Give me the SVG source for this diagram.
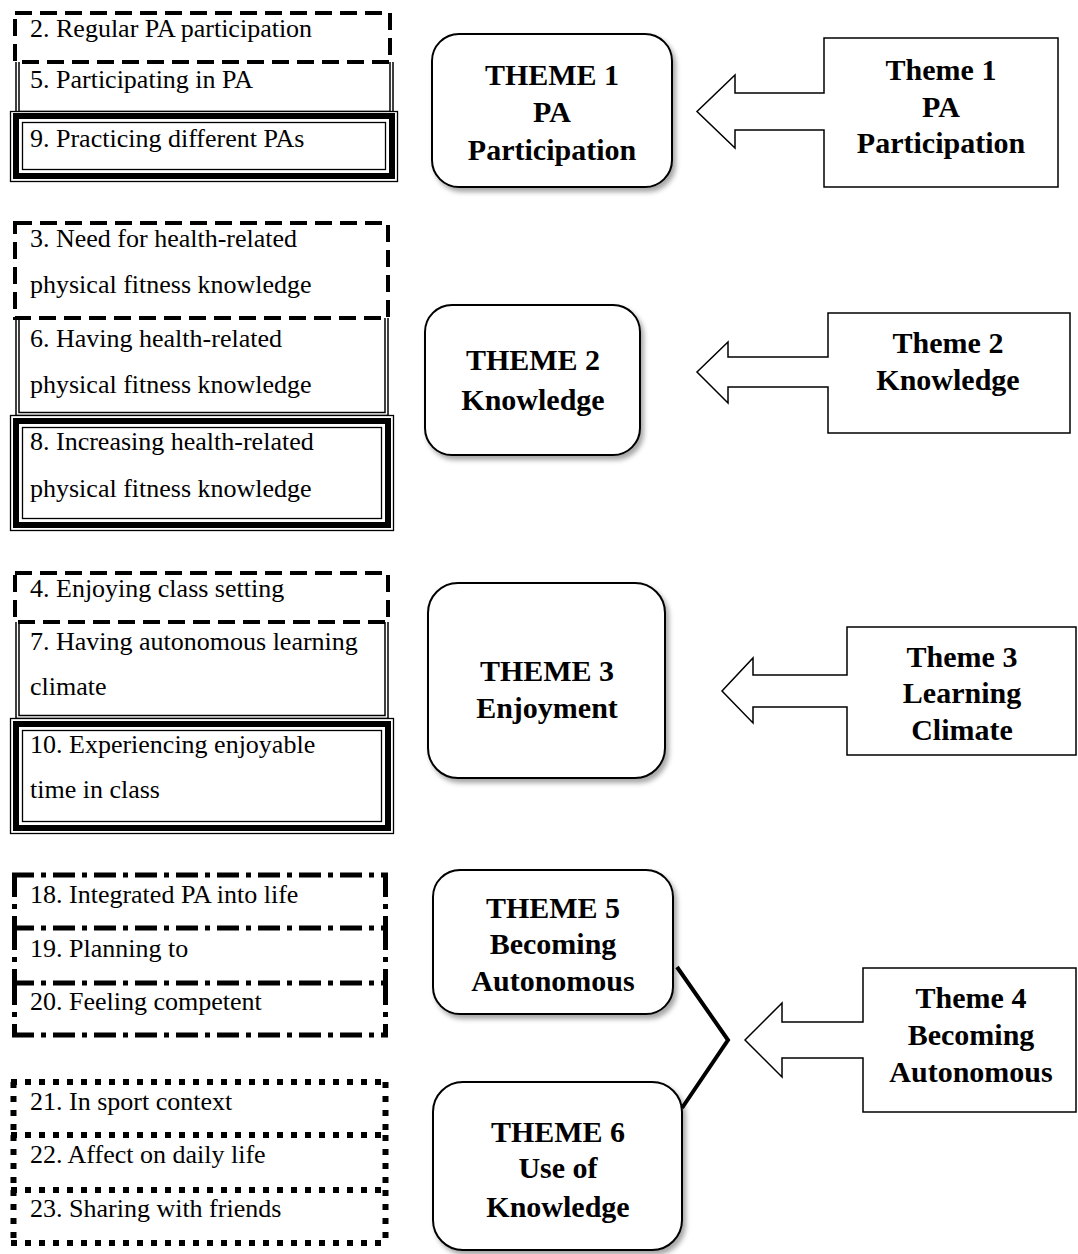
<svg xmlns="http://www.w3.org/2000/svg" width="1078" height="1254" viewBox="0 0 1078 1254">
<defs>
<filter id="sh" x="-10%" y="-10%" width="130%" height="130%">
<feDropShadow dx="3" dy="4" stdDeviation="2.5" flood-color="#000" flood-opacity="0.35"/>
</filter>
<style>
.t{font-family:"Liberation Serif","Times New Roman",serif;font-size:26px;fill:#000}
.b{font-family:"Liberation Serif","Times New Roman",serif;font-size:30px;font-weight:bold;fill:#000;text-anchor:middle}
.dash{fill:none;stroke:#000;stroke-width:4;stroke-dasharray:17 8}
.dblo{fill:none;stroke:#000;stroke-width:4.5}
.dbli{fill:none;stroke:#fff;stroke-width:1.5}
.thin{fill:none;stroke:#000;stroke-width:1.3}
.thick{fill:none;stroke:#000;stroke-width:6}
.dd{fill:none;stroke:#000;stroke-width:5;stroke-dasharray:22 7 5 7}
.dot{fill:none;stroke:#000;stroke-width:6;stroke-dasharray:6 8}
.rbox{fill:#fff;stroke:#000;stroke-width:2;filter:url(#sh)}
.call{fill:#fff;stroke:#000;stroke-width:1.5}
.link{fill:none;stroke:#000;stroke-width:4}
</style>
</defs>
<rect width="1078" height="1254" fill="#fff"/>

<!-- Group 1 -->
<g id="item5">
<path class="dblo" d="M17.5,62 V113 H391.5 V62"/>
<path class="dbli" d="M17.5,62 V113 H391.5 V62"/>
<text class="t" x="30" y="88">5. Participating in PA</text>
</g>
<g id="item2">
<rect class="dash" x="15" y="13" width="375" height="49"/>
<text class="t" x="30" y="37">2. Regular PA participation</text>
</g>
<g id="item9">
<rect x="10" y="111" width="388" height="71" fill="#fff"/>
<rect class="thin" x="10.5" y="111.5" width="387" height="70"/>
<rect class="thick" x="16" y="116" width="376" height="60"/>
<rect class="thin" x="22.5" y="122.5" width="363" height="47"/>
<text class="t" x="30" y="147">9. Practicing different PAs</text>
</g>

<!-- Group 2 -->
<g id="item6">
<path class="dblo" d="M17.5,318 V414 H386.5 V318"/>
<path class="dbli" d="M17.5,318 V414 H386.5 V318"/>
<text class="t" x="30" y="347">6. Having health-related</text>
<text class="t" x="30" y="393">physical fitness knowledge</text>
</g>
<g id="item3">
<rect class="dash" x="15" y="223" width="373" height="95"/>
<text class="t" x="30" y="247">3. Need for health-related</text>
<text class="t" x="30" y="293">physical fitness knowledge</text>
</g>
<g id="item8">
<rect x="10" y="415" width="384" height="116" fill="#fff"/>
<rect class="thin" x="10.5" y="415.5" width="383" height="115"/>
<rect class="thick" x="16" y="421" width="372" height="104"/>
<rect class="thin" x="22.5" y="427.5" width="359" height="91"/>
<text class="t" x="30" y="450">8. Increasing health-related</text>
<text class="t" x="30" y="497">physical fitness knowledge</text>
</g>

<!-- Group 3 -->
<g id="item7">
<path class="dblo" d="M17.5,622 V717 H386.5 V622"/>
<path class="dbli" d="M17.5,622 V717 H386.5 V622"/>
<text class="t" x="30" y="650">7. Having autonomous learning</text>
<text class="t" x="30" y="695">climate</text>
</g>
<g id="item4">
<rect class="dash" x="15" y="573" width="373" height="49"/>
<text class="t" x="30" y="597">4. Enjoying class setting</text>
</g>
<g id="item10">
<rect x="10" y="718" width="384" height="116" fill="#fff"/>
<rect class="thin" x="10.5" y="718.5" width="383" height="115"/>
<rect class="thick" x="16" y="724" width="372" height="104"/>
<rect class="thin" x="22.5" y="730.5" width="359" height="91"/>
<text class="t" x="30" y="753">10. Experiencing enjoyable</text>
<text class="t" x="30" y="798">time in class</text>
</g>

<!-- Group 4 -->
<g id="item18">
<path class="dd" d="M12,875 H388 M14.5,875 V928 M385.5,875 V928"/>
<text class="t" x="30" y="903">18. Integrated PA into life</text>
</g>
<g id="item19">
<path class="dd" d="M12,928 H388 M14.5,928 V983 M385.5,928 V983"/>
<text class="t" x="30" y="957">19. Planning to</text>
</g>
<g id="item20">
<path class="dd" d="M12,983 H388 M14.5,983 V1035 M385.5,983 V1035 M12,1035 H388"/>
<text class="t" x="30" y="1010">20. Feeling competent</text>
</g>

<!-- Group 5 -->
<g id="item21">
<path class="dot" d="M11,1082 H389 M13.5,1082 V1135 M385.5,1082 V1135"/>
<text class="t" x="30" y="1110">21. In sport context</text>
</g>
<g id="item22">
<path class="dot" d="M11,1135 H389 M13.5,1135 V1190 M385.5,1135 V1190"/>
<text class="t" x="30" y="1163">22. Affect on daily life</text>
</g>
<g id="item23">
<path class="dot" d="M11,1190 H389 M13.5,1190 V1243 M385.5,1190 V1243 M11,1243 H389"/>
<text class="t" x="30" y="1217">23. Sharing with friends</text>
</g>

<!-- Middle theme boxes -->
<g id="theme1">
<rect class="rbox" x="432" y="34" width="240" height="153" rx="27"/>
<text class="b" x="552" y="85">THEME 1</text>
<text class="b" x="552" y="122">PA</text>
<text class="b" x="552" y="160">Participation</text>
</g>
<g id="theme2">
<rect class="rbox" x="425" y="305" width="215" height="150" rx="27"/>
<text class="b" x="533" y="370">THEME 2</text>
<text class="b" x="533" y="410">Knowledge</text>
</g>
<g id="theme3">
<rect class="rbox" x="428" y="583" width="237" height="195" rx="30"/>
<text class="b" x="547" y="681">THEME 3</text>
<text class="b" x="547" y="718">Enjoyment</text>
</g>
<g id="theme5">
<rect class="rbox" x="433" y="870" width="240" height="144" rx="27"/>
<text class="b" x="553" y="918">THEME 5</text>
<text class="b" x="553" y="954">Becoming</text>
<text class="b" x="553" y="991">Autonomous</text>
</g>
<g id="theme6">
<rect class="rbox" x="433" y="1082" width="249" height="168" rx="30"/>
<text class="b" x="558" y="1142">THEME 6</text>
<text class="b" x="558" y="1178">Use of</text>
<text class="b" x="558" y="1217">Knowledge</text>
</g>

<!-- Right callouts -->
<g id="callout1">
<path class="call" d="M824,38 H1058 V187 H824 V130 H735 V148 L697,111.5 L735,75 V93 H824 Z"/>
<text class="b" x="941" y="80">Theme 1</text>
<text class="b" x="941" y="117">PA</text>
<text class="b" x="941" y="153">Participation</text>
</g>
<g id="callout2">
<path class="call" d="M828,313 H1070 V433 H828 V387 H728 V403 L697,372 L728,342 V357 H828 Z"/>
<text class="b" x="948" y="353">Theme 2</text>
<text class="b" x="948" y="390">Knowledge</text>
</g>
<g id="callout3">
<path class="call" d="M847,627 H1076 V755 H847 V707 H753 V723 L722,691 L753,658 V675 H847 Z"/>
<text class="b" x="962" y="667">Theme 3</text>
<text class="b" x="962" y="703">Learning</text>
<text class="b" x="962" y="740">Climate</text>
</g>
<g id="callout4">
<path class="call" d="M863,968 H1076 V1112 H863 V1058 H782 V1077 L745,1040 L782,1003 V1022 H863 Z"/>
<text class="b" x="971" y="1008">Theme 4</text>
<text class="b" x="971" y="1045">Becoming</text>
<text class="b" x="971" y="1082">Autonomous</text>
</g>

<!-- Connectors -->
<g id="connectors">
<path class="link" d="M677,967 L728,1040 L682,1108"/>
</g>
</svg>
